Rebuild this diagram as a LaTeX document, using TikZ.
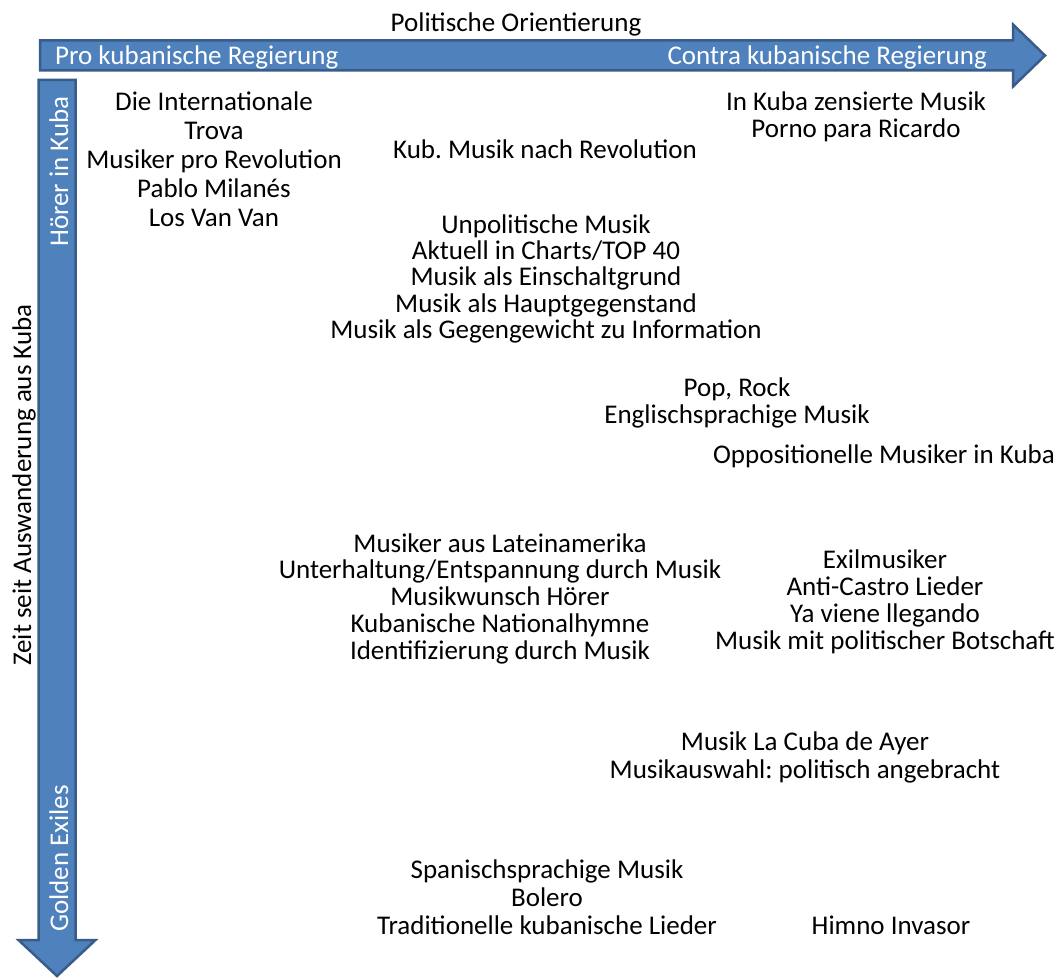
\documentclass[tikz,border=0pt]{standalone}
\usepackage{fontspec}
\setmainfont{Carlito}
\frenchspacing
\definecolor{axisfill}{HTML}{4F81BD}
\definecolor{axisline}{HTML}{385D8A}
\newcommand\topstrut{\rule{0pt}{19pt}}
\begin{document}
\begin{tikzpicture}[x=1pt,y=-1pt,
  axisarrow/.style={fill=axisfill, draw=axisline, line width=2.5pt, line join=miter},
  lbl/.style={inner sep=0pt, align=center, anchor=north, font=\fontsize{27}{27}\selectfont},
  single/.style={inner sep=0pt, anchor=base, font=\fontsize{27}{27}\selectfont},
  axistext/.style={inner sep=0pt, text=white, font=\fontsize{27}{27}\selectfont}]

% canvas
\fill[white] (0,0) rectangle (1060,979);
\useasboundingbox (0,0) rectangle (1060,979);

% horizontal axis: political orientation
\draw[axisarrow] (40,40.5) -- (1013,40.5) -- (1013,24.5) -- (1045,55.5)
  -- (1013,86.5) -- (1013,70.5) -- (40,70.5) -- cycle;
% vertical axis: time since emigration
\draw[axisarrow] (38.5,80) -- (75.5,80) -- (75.5,940) -- (95.5,940) -- (57,976)
  -- (18.5,940) -- (38.5,940) -- cycle;

% axis captions
\node[single] (xtitle) at (516,32) {Politische Orientierung};
\node[axistext, anchor=base west] (xpro) at (55,65) {Pro kubanische Regierung};
\node[axistext, anchor=base east] (xcontra) at (987,65) {Contra kubanische Regierung};
\node[axistext, rotate=90, anchor=base east] (ytop) at (68,96) {Hörer in Kuba};
\node[axistext, rotate=90, anchor=base west] (ybottom) at (68,932) {Golden Exiles};
\node[single, rotate=90] (ytitle) at (31,485) {Zeit seit Auswanderung aus Kuba};

% music categories
\node[lbl, font=\fontsize{27}{29}\selectfont] (prorev) at (214,91)
  {\topstrut Die Internationale\\Trova\\Musiker pro Revolution\\Pablo Milanés\\Los Van Van};
\node[single] (postrev) at (545,158) {Kub. Musik nach Revolution};
\node[lbl] (censored) at (856,91)
  {\topstrut In Kuba zensierte Musik\\Porno para Ricardo};
\node[lbl, font=\fontsize{27}{26.3}\selectfont] (unpolitical) at (546,214)
  {\topstrut Unpolitische Musik\\Aktuell in Charts/TOP 40\\Musik als Einschaltgrund\\Musik als Hauptgegenstand\\Musik als Gegengewicht zu Information};
\node[lbl] (pop) at (737,377)
  {\topstrut Pop, Rock\\Englischsprachige Musik};
\node[single] (opposition) at (884,463) {Oppositionelle Musiker in Kuba};
\node[lbl, font=\fontsize{27}{26.75}\selectfont] (latin) at (500,533)
  {\topstrut Musiker aus Lateinamerika\\Unterhaltung/Entspannung durch Musik\\Musikwunsch Hörer\\Kubanische Nationalhymne\\Identifizierung durch Musik};
\node[lbl] (exile) at (885,549)
  {\topstrut Exilmusiker\\Anti-Castro Lieder\\Ya viene llegando\\Musik mit politischer Botschaft};
\node[lbl, font=\fontsize{27}{28}\selectfont] (ayer) at (805,731)
  {\topstrut Musik La Cuba de Ayer\\Musikauswahl: politisch angebracht};
\node[lbl, font=\fontsize{27}{28}\selectfont] (spanish) at (547,859)
  {\topstrut Spanischsprachige Musik\\Bolero\\Traditionelle kubanische Lieder};
\node[single] (himno) at (891,934) {Himno Invasor};

\end{tikzpicture}
\end{document}
